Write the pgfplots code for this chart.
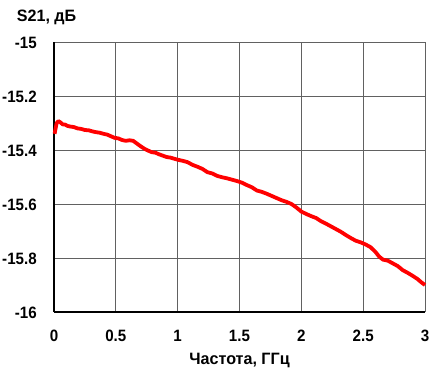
\documentclass[border=0pt]{standalone}
\usepackage{pgfplots}
\pgfplotsset{compat=1.18}
\usepackage{fontspec}
\setmainfont[FakeStretch=0.92]{Liberation Sans}
\newfontfamily\lblfont[FakeStretch=0.98]{Liberation Sans}
\begin{document}
\begin{tikzpicture}
\begin{axis}[
  scale only axis,
  width=371bp, height=270bp,
  xmin=0, xmax=3, ymin=-16, ymax=-15,
  xtick={0,0.5,1,1.5,2,2.5,3},
  ytick={-16,-15.8,-15.6,-15.4,-15.2,-15},
  xticklabels={0,0.5,1,1.5,2,2.5,3},
  yticklabels={-16,-15.8,-15.6,-15.4,-15.2,-15},
  axis x line*=bottom, axis y line*=left,
  axis line style={black, line width=1.3pt},
  major tick length=0pt,
  grid=major,
  major grid style={color=black!62, line width=0.9pt},
  tick label style={font=\fontsize{16.5}{18}\selectfont\bfseries, inner sep=0pt, outer sep=0pt},
  xticklabel style={anchor=base, yshift=-29.3bp},
  yticklabel style={anchor=east, xshift=-17.3bp, yshift=-1.2bp},
  xlabel={Частота, ГГц},
  xlabel style={font=\lblfont\fontsize{16.5}{18}\selectfont\bfseries, at={(axis description cs:0.5,0)}, anchor=base, inner sep=0pt, yshift=-52.3bp},
  ylabel={S21, дБ},
  ylabel style={font=\lblfont\fontsize{16.5}{18}\selectfont\bfseries, rotate=-90, at={(axis description cs:0,1)}, anchor=base west, inner sep=0pt, xshift=-37.3bp, yshift=20.3bp},
  clip=false,
]
\addplot[red, line width=3.8pt, line join=round] coordinates {
(0.005,-15.340) (0.012,-15.322) (0.022,-15.300) (0.035,-15.293) (0.05,-15.297)
(0.07,-15.305) (0.09,-15.306) (0.11,-15.311) (0.13,-15.313) (0.16,-15.315)
(0.19,-15.320) (0.22,-15.322) (0.25,-15.326) (0.28,-15.327) (0.31,-15.331)
(0.34,-15.334) (0.37,-15.336) (0.40,-15.340) (0.43,-15.343) (0.46,-15.349)
(0.49,-15.355) (0.52,-15.357) (0.55,-15.363) (0.58,-15.366) (0.61,-15.364)
(0.64,-15.366) (0.67,-15.376) (0.70,-15.386) (0.73,-15.395) (0.76,-15.402)
(0.79,-15.408) (0.82,-15.410) (0.85,-15.416) (0.88,-15.421) (0.91,-15.426)
(0.94,-15.428) (0.97,-15.432) (1.00,-15.436) (1.04,-15.440) (1.08,-15.445)
(1.12,-15.455) (1.16,-15.462) (1.20,-15.470) (1.24,-15.482) (1.28,-15.487)
(1.32,-15.496) (1.36,-15.501) (1.40,-15.505) (1.44,-15.510) (1.48,-15.515)
(1.52,-15.521) (1.56,-15.530) (1.60,-15.538) (1.64,-15.550) (1.68,-15.555)
(1.72,-15.562) (1.76,-15.570) (1.80,-15.578) (1.84,-15.586) (1.88,-15.592)
(1.92,-15.600) (1.96,-15.613) (2.00,-15.628) (2.04,-15.637) (2.08,-15.645)
(2.12,-15.652) (2.16,-15.664) (2.20,-15.673) (2.24,-15.683) (2.28,-15.693)
(2.32,-15.703) (2.36,-15.715) (2.40,-15.726) (2.44,-15.736) (2.48,-15.742)
(2.52,-15.750) (2.56,-15.760) (2.60,-15.778) (2.63,-15.795) (2.66,-15.806)
(2.70,-15.810) (2.74,-15.820) (2.78,-15.830) (2.82,-15.845) (2.86,-15.855)
(2.90,-15.866) (2.94,-15.878) (2.97,-15.890) (3.00,-15.900)
};
\end{axis}
\pgfresetboundingbox
\useasboundingbox ([xshift=-54bp,yshift=-56bp]current axis.south west) rectangle ([xshift=14bp,yshift=42bp]current axis.north east);
\end{tikzpicture}
\end{document}
